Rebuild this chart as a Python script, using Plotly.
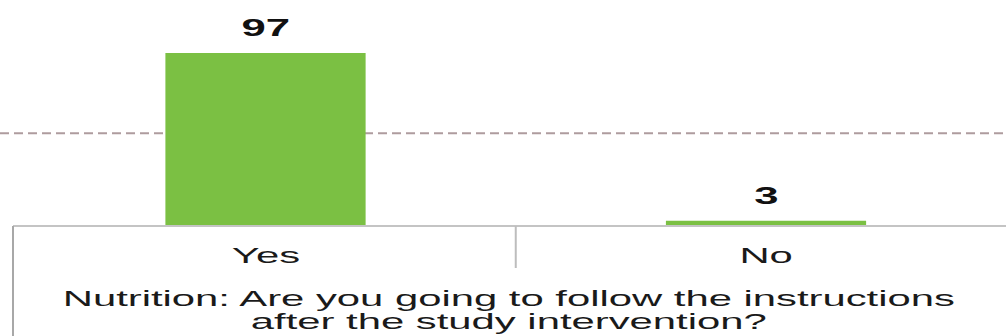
import plotly.graph_objects as go

# Survey answers (percent of respondents)
categories = ["Yes", "No"]
percentages = [97, 3]
value_labels = ["97", "3"]
question_lines = [
    "Nutrition: Are you going to follow the instructions",
    "after the study intervention?",
]
reference_level = 52

BAR_GREEN = "#7bc043"
FONT = "Arial, Liberation Sans, sans-serif"
TEXT_COLOR = "#1a1a1a"

W, H = 1006, 336
M_L, M_B = 13, 110
X_RANGE = [-0.5045, 1.4795]
Y_RANGE = [0, 126.7]


def x_to_paper(v):
    return (v - X_RANGE[0]) / (X_RANGE[1] - X_RANGE[0])


plot_h = H - M_B
plot_w = W - M_L

fig = go.Figure(
    go.Bar(
        x=list(range(len(categories))),
        y=percentages,
        width=0.4,
        marker=dict(color=BAR_GREEN, line=dict(width=0)),
        hoverinfo="skip",
    )
)

annotations = []
# value labels above the bars
for i, (v, lab) in enumerate(zip(percentages, value_labels)):
    annotations.append(dict(
        x=i, y=v, xref="x", yref="y", text=lab, showarrow=False,
        yanchor="bottom", xanchor="center", yshift=10,
        font=dict(family=FONT, size=23, color="#111111", weight="bold"),
    ))
# category labels under the axis
for i, c in enumerate(categories):
    annotations.append(dict(
        x=i, y=0, xref="x", yref="paper", text=c, showarrow=False,
        yanchor="top", xanchor="center", yshift=-15,
        font=dict(family=FONT, size=22, color=TEXT_COLOR),
    ))
# question text below the categories
centre = (W / 2 - M_L) / plot_w
for k, line in enumerate(question_lines):
    annotations.append(dict(
        x=centre + 6 / plot_w, y=0, xref="paper", yref="paper", text=line,
        showarrow=False, yanchor="top", xanchor="center", yshift=-58 - 23 * k,
        font=dict(family=FONT, size=22, color=TEXT_COLOR),
    ))

shapes = [
    # dashed reference line across the whole width
    dict(type="line", xref="paper", yref="y", x0=-M_L / plot_w, x1=1,
         y0=reference_level, y1=reference_level,
         line=dict(color="#ae9c9e", width=2, dash="9px,5px"), layer="below"),
    # category axis line
    dict(type="line", xref="paper", yref="paper", x0=0, x1=1.02, y0=0, y1=0,
         line=dict(color="#c4c4c4", width=2)),
    # left border of the category box
    dict(type="line", xref="paper", yref="paper", x0=0, x1=0,
         y0=0, y1=-M_B / plot_h - 0.05,
         line=dict(color="#a8a8a8", width=2)),
    # divider between the categories
    dict(type="line", xref="paper", yref="paper", x0=x_to_paper(0.5),
         x1=x_to_paper(0.5), y0=0, y1=-42 / plot_h,
         line=dict(color="#bdbdbd", width=2)),
]

fig.update_layout(
    width=W, height=H,
    margin=dict(l=M_L, r=0, t=0, b=M_B, pad=0),
    paper_bgcolor="white", plot_bgcolor="white",
    showlegend=False,
    xaxis=dict(range=X_RANGE, showticklabels=False, showgrid=False,
               zeroline=False, showline=False, ticks="", fixedrange=True),
    yaxis=dict(range=Y_RANGE, visible=False, showgrid=False, zeroline=False,
               fixedrange=True),
    annotations=annotations,
    shapes=shapes,
)

# widen the glyphs horizontally (wide letterforms)
stretch_js = """
(function(){
  var k = 1.9;
  function stretch(){
    document.querySelectorAll('.main-svg text').forEach(function(t){
      if (t.getAttribute('data-wide')) return;
      var w = t.getComputedTextLength();
      if (w > 0) {
        t.setAttribute('textLength', (w * k).toFixed(1));
        t.setAttribute('lengthAdjust', 'spacingAndGlyphs');
        t.setAttribute('data-wide', '1');
      }
    });
  }
  var gd = document.getElementById('{plot_id}');
  stretch();
  if (gd && gd.on) gd.on('plotly_afterplot', stretch);
})();
"""

fig.write_html("out.html", config={"displayModeBar": False, "staticPlot": True},
               post_script=stretch_js)
